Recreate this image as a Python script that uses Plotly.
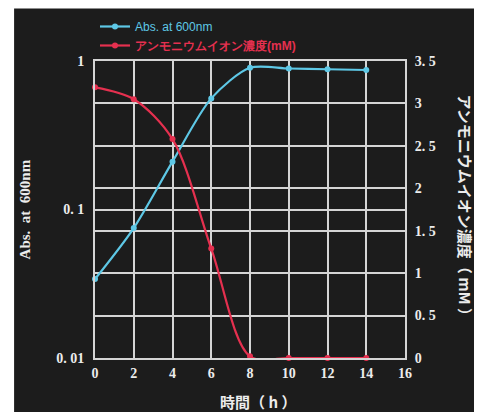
import plotly.graph_objects as go

# Culture time (h)
hours = [0, 2, 4, 6, 8, 10, 12, 14]
# Optical density at 600 nm (log scale, left axis)
abs600 = [0.034, 0.075, 0.21, 0.56, 0.90, 0.89, 0.88, 0.87]
# Ammonium ion concentration in mM (right axis)
ammonium = [3.19, 3.05, 2.58, 1.29, 0.02, 0.0, 0.0, 0.0]

x_ticks = [0, 2, 4, 6, 8, 10, 12, 14, 16]
left_tickvals = [0.01, 0.1, 1]
left_ticktext = ["0. 01", "0. 1", "1"]
right_tickvals = [0, 0.5, 1, 1.5, 2, 2.5, 3, 3.5]
right_ticktext = ["0", "0. 5", "1", "1. 5", "2", "2. 5", "3", "3. 5"]

CYAN = "#5ec8e6"
RED = "#e5304f"
GRID = "#d4d4d4"
PANEL = "#1c1c1c"
TEXT = "#ececec"

tick_font = dict(family="Liberation Serif", size=14, color=TEXT, weight="bold")

fig = go.Figure()
fig.add_trace(go.Scatter(
    x=hours, y=abs600, mode="lines+markers",
    name=f"<span style='color:{CYAN}'>Abs. at 600nm</span>",
    line=dict(color=CYAN, width=2.2, shape="spline", smoothing=0.8),
    marker=dict(color=CYAN, size=6), cliponaxis=False, yaxis="y",
))
fig.add_trace(go.Scatter(
    x=hours, y=ammonium, mode="lines+markers",
    name=f"<span style='color:{RED}'><b>アンモニウムイオン濃度(mM)</b></span>",
    line=dict(color=RED, width=2.2, shape="spline", smoothing=0.9),
    marker=dict(color=RED, size=6), cliponaxis=False, yaxis="y2",
))

# dark panel behind the whole chart
fig.add_shape(type="rect", xref="paper", yref="paper",
              x0=-0.261, x1=1.2226, y0=-0.2, y1=1.1767,
              fillcolor=PANEL, line_width=0, layer="below")

fig.update_layout(
    width=478, height=412,
    margin=dict(l=95, r=73, t=58, b=54),
    paper_bgcolor="white", plot_bgcolor=PANEL,
    showlegend=True,
    legend=dict(x=0.0, y=1.165, xanchor="left", yanchor="top",
                bgcolor="rgba(0,0,0,0)", tracegroupgap=0,
                font=dict(family="Liberation Sans", size=12)),
    xaxis=dict(range=[0, 16], tickvals=x_ticks, showgrid=True,
               gridcolor=GRID, gridwidth=2, showline=True, linecolor=GRID,
               linewidth=2, mirror=True, zeroline=False, tickfont=tick_font,
               ticks="", ticklabelstandoff=1),
    yaxis=dict(type="log", range=[-2, 0], tickvals=left_tickvals,
               ticktext=left_ticktext, showgrid=True, gridcolor=GRID,
               gridwidth=2, showline=True, linecolor=GRID, linewidth=2,
               zeroline=False, tickfont=tick_font, ticks="",
               ticklabelstandoff=6),
    yaxis2=dict(overlaying="y", side="right", range=[0, 3.5],
                tickvals=right_tickvals, ticktext=right_ticktext,
                showgrid=True, gridcolor=GRID, gridwidth=2, showline=True,
                linecolor=GRID, linewidth=2, zeroline=False,
                tickfont=tick_font, ticks="", ticklabelstandoff=5),
    annotations=[
        dict(text="<b>Abs.  at  600nm</b>", xref="paper", yref="paper",
             x=-0.226, y=0.5, xanchor="center", yanchor="middle",
             textangle=-90, showarrow=False,
             font=dict(family="Liberation Serif", size=15, color=TEXT)),
        dict(text="<b>アンモニウムイオン濃度（ mM ）</b>", xref="paper",
             yref="paper", x=1.194, y=0.503, xanchor="center",
             yanchor="middle", textangle=90, showarrow=False,
             font=dict(family="Noto Sans CJK JP", size=15, color=TEXT)),
        dict(text="<b>時間（ h ）</b>", xref="paper", yref="paper",
             x=0.526, y=-0.147, xanchor="center", yanchor="middle",
             showarrow=False,
             font=dict(family="Noto Sans CJK JP", size=15, color=TEXT)),
    ],
)

fig.write_html("out.html")
